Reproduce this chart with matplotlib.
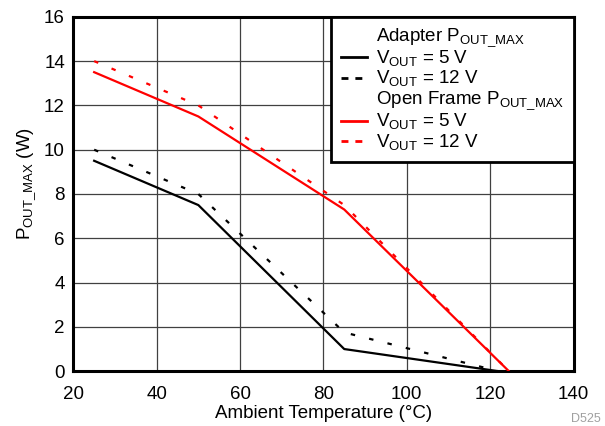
import matplotlib
matplotlib.use("Agg")
import matplotlib.pyplot as plt
from matplotlib.lines import Line2D

plt.rcParams['font.family'] = ['Liberation Sans', 'DejaVu Sans']
plt.rcParams['mathtext.fontset'] = 'custom'
plt.rcParams['mathtext.rm'] = 'Liberation Sans'

temp_adapter_5v = [25, 50, 85, 122]
pout_adapter_5v = [9.5, 7.5, 1.0, 0.0]
temp_adapter_12v = [25, 50, 85, 122]
pout_adapter_12v = [10.0, 8.0, 1.75, 0.0]
temp_open_5v = [25, 50, 85, 124.5]
pout_open_5v = [13.5, 11.5, 7.3, 0.0]
temp_open_12v = [25, 50, 85, 124.5]
pout_open_12v = [14.0, 12.0, 7.5, 0.0]

x_ticks = [20, 40, 60, 80, 100, 120, 140]
y_ticks = [0, 2, 4, 6, 8, 10, 12, 14, 16]

fig = plt.figure(figsize=(6.05, 4.26), dpi=100)
L, R, T, B = 73.3, 573.5, 16.8, 371.2
ax = fig.add_axes([L/605, 1-B/426, (R-L)/605, (B-T)/426])

lw = 1.6
ax.plot(temp_adapter_5v, pout_adapter_5v, color='black', lw=lw, zorder=3)
ax.plot(temp_adapter_12v, pout_adapter_12v, color='black', lw=lw, dashes=(2, 6.5), zorder=3)
ax.plot(temp_open_5v, pout_open_5v, color='#ff0000', lw=lw, zorder=3)
ax.plot(temp_open_12v, pout_open_12v, color='#ff0000', lw=lw, dashes=(2, 6.5), zorder=3)

fs = 13.5
ax.set_xlim(20, 140)
ax.set_ylim(0, 16)
ax.set_xticks(x_ticks)
ax.set_yticks(y_ticks)
ax.grid(True, color='#404040', lw=0.9)
ax.tick_params(length=0, labelsize=fs)
ax.tick_params(axis='x', pad=11)
ax.tick_params(axis='y', pad=6)
for s in ax.spines.values():
    s.set_linewidth(2.2)
ax.set_xlabel('Ambient Temperature (°C)', fontsize=fs, labelpad=1)
ax.set_ylabel(r'P$_{\mathregular{OUT\_MAX}}$ (W)', fontsize=fs)
ax.yaxis.set_label_coords((38 - L) / (R - L), (B - 183.5) / (B - T))

handles = [
    Line2D([], [], color='none'),
    Line2D([], [], color='black', lw=2),
    Line2D([], [], color='black', lw=2, dashes=(2.5, 2.5)),
    Line2D([], [], color='none'),
    Line2D([], [], color='#ff0000', lw=2),
    Line2D([], [], color='#ff0000', lw=2, dashes=(2.5, 2.5)),
]
labels = [
    r'Adapter P$_{\mathregular{OUT\_MAX}}$',
    r'V$_{\mathregular{OUT}}$ = 5 V',
    r'V$_{\mathregular{OUT}}$ = 12 V',
    r'Open Frame P$_{\mathregular{OUT\_MAX}}$',
    r'V$_{\mathregular{OUT}}$ = 5 V',
    r'V$_{\mathregular{OUT}}$ = 12 V',
]
leg = ax.legend(handles, labels, loc='upper right', borderaxespad=0, fontsize=fs,
                frameon=True, fancybox=False, edgecolor='black', framealpha=1,
                handlelength=1.4, handletextpad=0.48, labelspacing=0.0,
                borderpad=0.5)
leg.get_frame().set_linewidth(2)

fig.text(586/605, 1-419/426, 'D525', fontsize=9, color='#a0a0a0', ha='center', va='center')

fig.savefig('out.png', dpi=100)
